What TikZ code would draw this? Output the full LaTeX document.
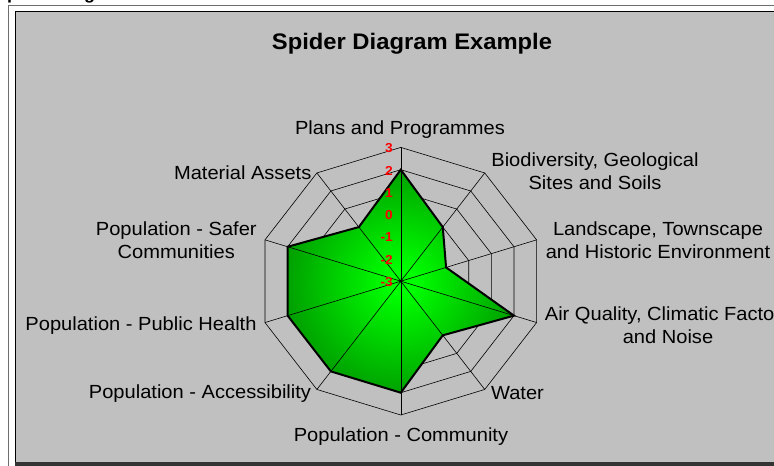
\documentclass[tikz,border=0pt]{standalone}
\usepackage{fontspec}
\setmainfont{Liberation Sans}
\definecolor{chartgray}{RGB}{192,192,192}
\definecolor{framegray}{RGB}{110,110,110}
\definecolor{darkbar}{RGB}{51,51,51}
\definecolor{brightgreen}{RGB}{0,255,0}
\definecolor{darkgreen}{RGB}{0,128,0}
\definecolor{numred}{RGB}{255,0,0}
\pgfdeclareradialshading{spidergreen}{\pgfpoint{0bp}{0bp}}{color(0bp)=(brightgreen); color(3bp)=(brightgreen); color(33bp)=(darkgreen); color(50bp)=(darkgreen)}
\begin{document}
\begin{tikzpicture}[x=1pt,y=-1pt,
  lab/.style={font=\fontsize{19}{23.4}\selectfont, align=center, inner sep=0pt, xscale=1.057, text=black},
  ttl/.style={font=\fontsize{22.5}{26}\selectfont\bfseries, inner sep=0pt, xscale=1.057},
  num/.style={font=\fontsize{13}{14}\selectfont\bfseries, text=numred, inner sep=0pt, xscale=1.057, anchor=east},
  grid/.style={draw=black, line width=0.6pt},
  datapoly/.style={draw=black, line width=2pt, shade, shading=spidergreen}]
\useasboundingbox (0,0) rectangle (774,466);
\clip (0,0) rectangle (774,466);
\fill[white] (0,0) rectangle (774,466);
% cut-off heading
\node[font=\fontsize{17}{20}\selectfont\bfseries, inner sep=0pt, xscale=1.057, anchor=base west] (head) at (-5,-1) {Spider Diagram};
% frame
\draw[line width=1.7pt, draw=framegray] (8.5,470) -- (8.5,5.5) -- (780,5.5);
\fill[chartgray] (15,11) rectangle (780,462);
\draw[line width=1pt] (15.5,462) -- (15.5,11.5) -- (780,11.5);
\fill[darkbar] (15,462) rectangle (780,467);
% spider
\coordinate (C) at (400.8,281.2);
\begin{scope}[shift={(C)}, x=142.8pt, y=133.8pt]
  \foreach \k in {1,...,6}{
    \draw[grid] (90:\k/6) \foreach \i in {1,...,9}{ -- (90-36*\i:\k/6)} -- cycle;
  }
  \path[datapoly] (90:5/6) -- (54:1/2) -- (18:1/3) -- (-18:5/6) -- (-54:1/2) -- (-90:5/6) -- (-126:5/6) -- (-162:5/6) -- (162:5/6) -- (126:1/2) -- cycle;
  \foreach \i in {0,...,9}{
    \draw[grid] (0,0) -- (90-36*\i:1);
  }
  \fill (0,0) circle (1.6pt);
\end{scope}
% scale numbers
\foreach \v [count=\j from 0] in {3,2,1,0,-1,-2,-3}{
  \node[num] (n\j) at (393,148.3+22.3*\j) {\v};
}
% title and labels
\node[ttl] (title) at (412,44) {Spider Diagram Example};
\node[lab] (plans) at (400,129.5) {Plans and Programmes};
\node[lab] (bio) at (595,171) {Biodiversity, Geological\\Sites and Soils};
\node[lab] (land) at (658,240) {Landscape, Townscape\\and Historic Environment};
\node[lab] (air) at (668,325.5) {Air Quality, Climatic Factors\\and Noise};
\node[lab] (water) at (517.5,393.5) {Water};
\node[lab] (comm) at (401,436.5) {Population - Community};
\node[lab] (acc) at (200,394) {Population - Accessibility};
\node[lab] (pub) at (141,325.5) {Population - Public Health};
\node[lab] (safer) at (176.3,240) {Population - Safer\\Communities};
\node[lab] (mat) at (242.7,172.5) {Material Assets};
\end{tikzpicture}
\end{document}
